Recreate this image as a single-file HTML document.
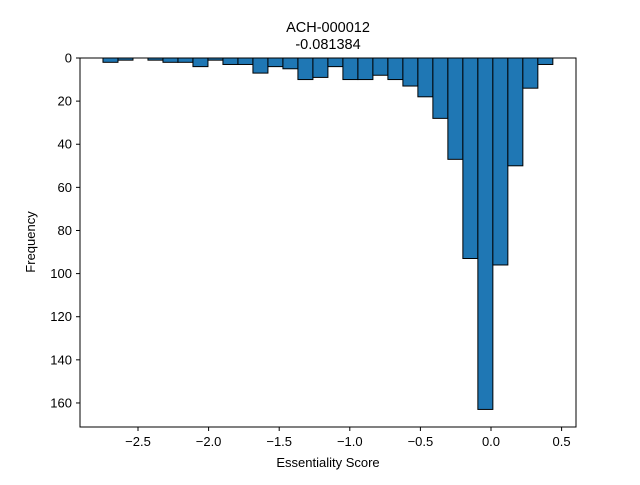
<!DOCTYPE html>
<html><head><meta charset="utf-8"><style>
body{margin:0;background:#fff}
svg{font-family:"Liberation Sans","DejaVu Sans",sans-serif}
</style></head><body>
<svg id="chart" width="640" height="480" xmlns="http://www.w3.org/2000/svg">
<rect width="640" height="480" fill="#fff"/>
<text x="328" y="32" font-size="14.5" text-anchor="middle">ACH-000012</text>
<text x="328" y="49" font-size="14.5" text-anchor="middle">-0.081384</text>
<g id="bars"></g>
<g id="xt"></g>
<g id="yt"></g>
<rect x="80" y="58" width="496" height="369" fill="none" stroke="#000" stroke-width="1"/>
<text x="328" y="467" font-size="13" text-anchor="middle">Essentiality Score</text>
<text transform="translate(35,242) rotate(-90)" font-size="13" text-anchor="middle">Frequency</text>
</svg>
<script>
const binStart = -2.748;
const binWidth = 0.1062;
const counts = [2,1,0,1,2,2,4,1,3,3,7,4,5,10,9,4,10,10,8,10,13,18,28,47,93,163,96,50,14,3];
const xTicks = [-2.5,-2.0,-1.5,-1.0,-0.5,0.0,0.5];
const yTicks = [0,20,40,60,80,100,120,140,160];
const NS="http://www.w3.org/2000/svg";
function sx(v){return 491+(v)*141.2;}
function sy(v){return 58+v*2.156;}
const bars=document.getElementById('bars');
counts.forEach((c,i)=>{
  if(c<=0)return;
  const x0=sx(binStart+i*binWidth), x1=sx(binStart+(i+1)*binWidth);
  const r=document.createElementNS(NS,'rect');
  r.setAttribute('x',x0);r.setAttribute('y',sy(0));
  r.setAttribute('width',x1-x0);r.setAttribute('height',sy(c)-sy(0));
  r.setAttribute('fill','#1f77b4');r.setAttribute('stroke','#000');r.setAttribute('stroke-width','1');
  
  
  bars.appendChild(r);
});
const xt=document.getElementById('xt');
xTicks.forEach(t=>{
  const x=sx(t);
  const l=document.createElementNS(NS,'line');
  l.setAttribute('x1',x);l.setAttribute('x2',x);l.setAttribute('y1',427);l.setAttribute('y2',431);l.setAttribute('stroke','#000');
  
  
  xt.appendChild(l);
  const tx=document.createElementNS(NS,'text');
  tx.setAttribute('x',x);tx.setAttribute('y',446);tx.setAttribute('font-size','13');tx.setAttribute('text-anchor','middle');
  tx.textContent=(t<0?'\u2212':'')+Math.abs(t).toFixed(1);
  
  
  xt.appendChild(tx);
});
const yt=document.getElementById('yt');
yTicks.forEach(t=>{
  const y=sy(t);
  const l=document.createElementNS(NS,'line');
  l.setAttribute('x1',76);l.setAttribute('x2',80);l.setAttribute('y1',y);l.setAttribute('y2',y);l.setAttribute('stroke','#000');
  
  
  yt.appendChild(l);
  const tx=document.createElementNS(NS,'text');
  tx.setAttribute('x',72);tx.setAttribute('y',y+4.5);tx.setAttribute('font-size','13');tx.setAttribute('text-anchor','end');
  tx.textContent=t;
  
  
  yt.appendChild(tx);
});
</script>
</body></html>
